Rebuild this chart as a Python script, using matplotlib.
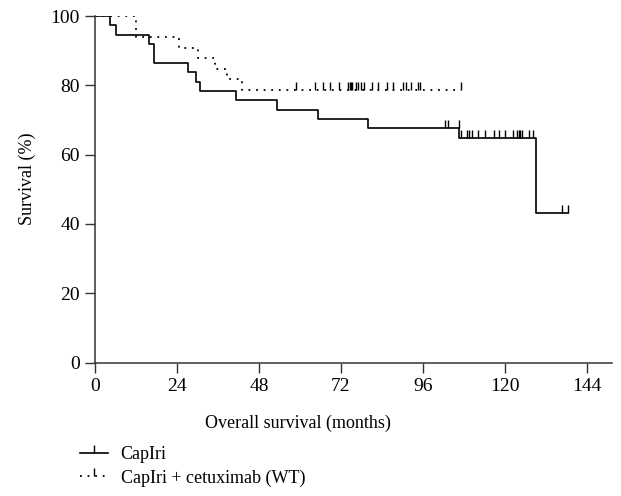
import numpy as np
import matplotlib.pyplot as plt
from matplotlib.lines import Line2D

#%%
# Kaplan-Meier steps (months, survival %)

capiri_t = [0, 4.4, 6.1, 15.8, 17.4, 27.1, 29.6, 30.7, 41.3, 53.4, 65.2, 80.0, 106.6, 129.0]
capiri_s = [100, 97.3, 94.6, 91.9, 86.5, 83.8, 81.1, 78.4, 75.7, 73.0, 70.3, 67.6, 64.9, 43.3]
capiri_end = 138.3
capiri_cens = [102.4, 103.2, 106.4, 107.1, 108.9, 109.5, 110.3, 112.1, 114.1, 116.8, 118.1,
               120.0, 122.3, 123.4, 124.0, 124.5, 125.0, 127.0, 128.2, 136.6, 138.3]

cetux_t = [0, 11.9, 24.7, 30.2, 35.1, 38.5, 42.9]
cetux_s = [100, 93.9, 90.9, 87.9, 84.8, 81.8, 78.8]
cetux_end = 107.1
cetux_cens = [58.8, 64.4, 66.7, 68.8, 71.4, 74.0, 74.6, 74.9, 75.2, 76.4, 77.0, 77.9, 78.7,
              81.1, 82.8, 85.5, 87.2, 90.1, 91.0, 92.5, 94.5, 95.1, 107.1]

labels = ['CapIri', 'CapIri + cetuximab (WT)']
x_ticks = [0, 24, 48, 72, 96, 120, 144]
y_ticks = [0, 20, 40, 60, 80, 100]

plt.rcParams['font.family'] = ['Liberation Serif', 'DejaVu Serif']
plt.rcParams['font.size'] = 13


def step_at(t, s, c):
    t = np.asarray(t)
    s = np.asarray(s)
    idx = np.searchsorted(t, c, side='right') - 1
    return s[idx]


#%%
# Plot

fig = plt.figure(figsize=(6.21, 4.96), dpi=100)
ax = fig.add_axes([0.153, 0.269, 0.8325, 0.6985])

styles = [('-', 1.2), ((0, (1, 3.2)), 1.3)]
curves = [(capiri_t, capiri_s, capiri_end, capiri_cens),
          (cetux_t, cetux_s, cetux_end, cetux_cens)]

handles = []
for (t, s, end, cens), (ls, lw), lab in zip(curves, styles, labels):
    tt = list(t) + [end]
    ss = list(s) + [s[-1]]
    ax.step(tt, ss, where='post', color='black', ls=ls, lw=lw)
    cy = step_at(t, s, np.asarray(cens))
    ax.plot(cens, cy, ls='none', marker=2, color='black', ms=6, mew=1.0)
    handles.append(Line2D([], [], color='black', ls=ls, lw=lw,
                          marker=2, ms=6, mew=1.0))

ax.set_xlim(0, 151.3)
ax.set_ylim(0, 100)
ax.set_xticks(x_ticks)
ax.set_yticks(y_ticks)
ax.set_xlabel('Overall survival (months)')
ax.set_ylabel('Survival (%)')
ax.xaxis.set_label_coords(0.393, -0.149)
ax.yaxis.set_label_coords(-0.114, 0.53)

for side in ['top', 'right']:
    ax.spines[side].set_visible(False)
for side in ['left', 'bottom']:
    ax.spines[side].set_color('#333333')
    ax.spines[side].set_linewidth(1.1)
ax.tick_params(length=7, width=1.0, color='#333333', pad=4, labelsize=14)

fig.legend(handles, labels, loc='upper left', bbox_to_anchor=(0.129, 0.101),
           frameon=False, handlelength=1.55, handletextpad=0.7,
           labelspacing=0.35, numpoints=1, borderaxespad=0, borderpad=0)

fig.savefig('out.png', dpi=100)
